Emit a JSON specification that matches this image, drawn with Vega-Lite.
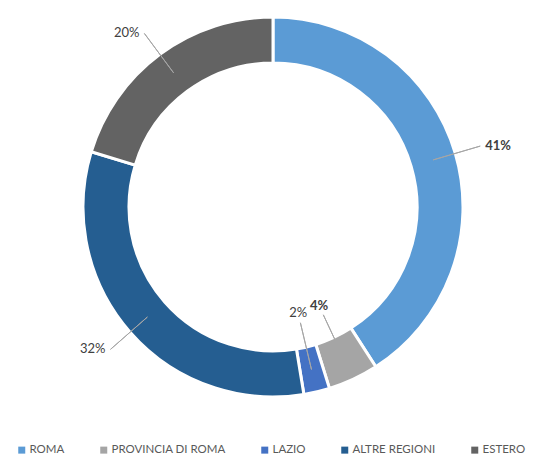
{
  "$schema": "https://vega.github.io/schema/vega-lite/v6.json",
  "width": 546,
  "height": 414,
  "padding": {"left": 0, "top": 0, "right": 0, "bottom": 42},
  "autosize": "none",
  "background": "white",
  "config": {"view": {"stroke": null}, "text": {"font": "Lato", "fontSize": 13, "color": "#404040"}},
  "data": {
    "values": [
      {"k": 1, "cat": "ROMA", "value": 40.9},
      {"k": 2, "cat": "PROVINCIA DI ROMA", "value": 4.3},
      {"k": 3, "cat": "LAZIO", "value": 2.2},
      {"k": 4, "cat": "ALTRE REGIONI", "value": 32.3},
      {"k": 5, "cat": "ESTERO", "value": 20.3}
    ]
  },
  "transform": [
    {"stack": "value", "groupby": [], "sort": [{"field": "k", "order": "ascending"}], "as": ["v0", "v1"]},
    {"calculate": "(datum.v0 + datum.v1) / 2", "as": "mid"},
    {"calculate": "format(datum.value, '.0f') + '%'", "as": "lab"}
  ],
  "layer": [
    {
      "mark": {"type": "arc", "outerRadius": 190, "innerRadius": 144, "stroke": "white", "strokeWidth": 3},
      "encoding": {
        "theta": {"field": "v0", "type": "quantitative", "scale": {"domain": [0, 100]}},
        "theta2": {"field": "v1"},
        "color": {
          "field": "cat",
          "type": "nominal",
          "scale": {
            "domain": ["ROMA", "PROVINCIA DI ROMA", "LAZIO", "ALTRE REGIONI", "ESTERO"],
            "range": ["#5b9bd5", "#a5a5a5", "#4472c4", "#255e91", "#636363"]
          },
          "legend": {
            "orient": "none",
            "legendX": 16,
            "legendY": 444,
            "direction": "horizontal",
            "title": null,
            "symbolType": "square",
            "symbolSize": 49,
            "symbolStrokeWidth": 0,
            "labelFont": "Lato",
            "labelFontSize": 11.5,
            "labelColor": "#595959",
            "labelOffset": 2,
            "columnPadding": 33
          }
        }
      }
    },
    {
      "transform": [{"filter": "datum.value >= 10"}],
      "mark": {"type": "arc", "outerRadius": 216, "innerRadius": 167, "stroke": "#a6a6a6", "strokeWidth": 1, "fill": "transparent"},
      "encoding": {
        "theta": {"field": "mid", "type": "quantitative"},
        "theta2": {"field": "mid"}
      }
    },
    {
      "transform": [{"filter": "datum.value < 10"}],
      "mark": {"type": "arc", "outerRadius": 167, "innerRadius": 119, "stroke": "#a6a6a6", "strokeWidth": 1, "fill": "transparent"},
      "encoding": {
        "theta": {"field": "mid", "type": "quantitative"},
        "theta2": {"field": "mid"}
      }
    },
    {
      "transform": [{"filter": "datum.value >= 10 && datum.mid < 50"}],
      "mark": {"type": "text", "radius": 216, "align": "left", "baseline": "middle", "dx": 5, "fontWeight": "bold"},
      "encoding": {
        "theta": {"field": "mid", "type": "quantitative", "stack": null},
        "text": {"field": "lab"}
      }
    },
    {
      "transform": [{"filter": "datum.value >= 10 && datum.mid >= 50"}],
      "mark": {"type": "text", "radius": 216, "align": "right", "baseline": "middle", "dx": -5},
      "encoding": {
        "theta": {"field": "mid", "type": "quantitative", "stack": null},
        "text": {"field": "lab"}
      }
    },
    {
      "transform": [{"filter": "datum.k == 2"}],
      "mark": {"type": "text", "radius": 109, "align": "center", "baseline": "middle", "fontWeight": "bold"},
      "encoding": {
        "theta": {"field": "mid", "type": "quantitative", "stack": null},
        "text": {"field": "lab"}
      }
    },
    {
      "transform": [{"filter": "datum.k == 3"}],
      "mark": {"type": "text", "radius": 109, "align": "center", "baseline": "middle"},
      "encoding": {
        "theta": {"field": "mid", "type": "quantitative", "stack": null},
        "text": {"field": "lab"}
      }
    }
  ]
}
